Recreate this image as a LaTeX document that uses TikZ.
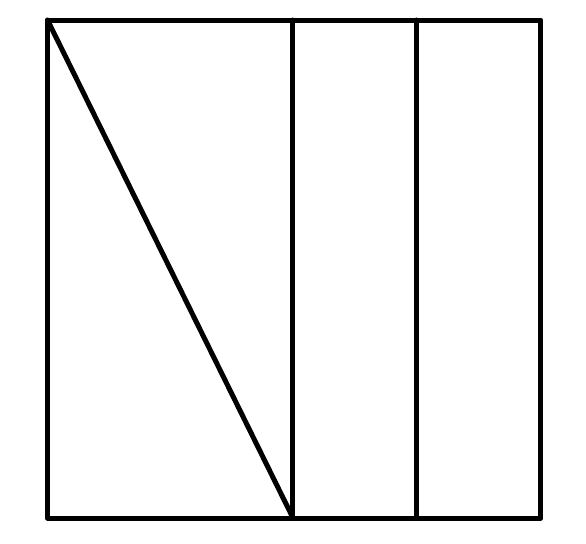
\documentclass[tikz,border=0pt]{standalone}
\usepackage{amsmath, tkz-euclide, tikz, xcolor}
\usetikzlibrary{calc}

\begin{document}
\begin{tikzpicture}[x=0.5pt, y=0.5pt, line width=2.5pt]
\useasboundingbox (0,0) rectangle (586,543);
\tkzDefPoints{47.5/523/A, 541/523/B, 541/25/C, 47.5/25/D}
\tkzDefPoints{293/523/E, 293/25/F, 417/523/G, 417/25/H}
\tkzDrawPolygon[line width=2.5pt](A,B,C,D)
\tkzDrawSegments[line width=2.5pt](E,F G,H A,F)
\end{tikzpicture}
\end{document}
